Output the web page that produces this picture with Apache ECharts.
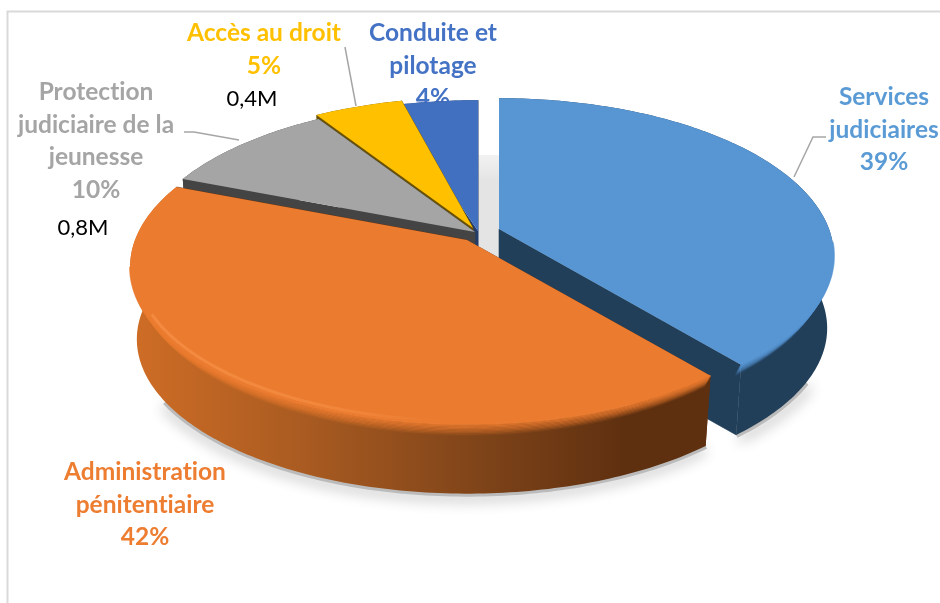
<!DOCTYPE html>
<html><head><meta charset="utf-8">
<style>html,body{margin:0;padding:0;background:#fff}#c{width:940px;height:603px}</style>
<script src="https://cdn.jsdelivr.net/npm/echarts@6/dist/echarts.min.js"></script>
</head><body><div id="c"></div>
<script>
const categories = ["Services\njudiciaires", "Administration\npénitentiaire", "Protection\njudiciaire de la\njeunesse", "Accès au droit", "Conduite et\npilotage"];
const percentValues = [39, 42, 10, 5, 4];
const amountLabels = ["", "", "0,8M", "0,4M", ""];

const topColors = ["#5796d3", "#ea7b2f", "#a5a5a5", "#ffc000", "#4170c0"];
const textColors = ["#5b9bd5", "#ed7d31", "#a5a5a5", "#ffc000", "#4472c4"];
const wallColors = ["#223f5a", null, "#444444", "#6b5200", "#243c68"];
const centers = [[499,229],[467,240],[475,232],[473,228],[478,231]];
const radiiX = [330, 332, 334, 334, 334];
const startOverlap = [0, 0, 0, 0, 0.05];
const layerZ = [40, 50, 30, 20, 10];
const labelPos = [[884,97],[145,472],[96,92],[264,33],[433,33]];
const amountPos = [null,null,[83,228],[252,99],null];
const leaders = [[[794,177],[813,137],[826,137]], null, [[184,132],[194,132],[239,140]], [[345,47],[356,106]], null];
const softFrom = [240, 265, 999, 999, 999];
const shadowFrom = [310, 330, 999, 999, 999];

const P = 0.17, B = 153, S = 0.98, DY = 73;
const total = percentValues.reduce((s, v) => s + v, 0);

// Keep the glyphs separate (no "ti" ligature) on the canvas text
const nativeFillText = CanvasRenderingContext2D.prototype.fillText;
CanvasRenderingContext2D.prototype.fillText = function (t, x, y, m) {
  this.textRendering = "optimizeSpeed";
  return m === undefined ? nativeFillText.call(this, t, x, y) : nativeFillText.call(this, t, x, y, m);
};

function proj(t, r, c, A) {
  const u = r * Math.sin(t), v = r * Math.cos(t), w = 1 + P * v;
  return [c[0] + A * u / w, c[1] - B * v / w];
}
function low(p, c) { return [c[0] + (p[0] - c[0]) * S, c[1] + DY + (p[1] - c[1]) * S]; }
function arc(t0, t1, r, c, A) {
  const n = Math.max(4, Math.ceil(Math.abs(t1 - t0) * 60)), out = [];
  for (let i = 0; i <= n; i++) out.push(proj(t0 + (t1 - t0) * i / n, r, c, A));
  return out;
}

const Grad = echarts.graphic.LinearGradient;

function renderItem(params, api) {
  const i = params.dataIndex, val = api.value(0);
  let before = 0;
  for (let k = 0; k < i; k++) before += percentValues[k];
  const t0 = before / total * Math.PI * 2, t1 = (before + val) / total * Math.PI * 2;
  const c = centers[i], z = layerZ[i], A = radiiX[i];
  const top = arc(t0 - startOverlap[i], t1, 1, c, A);
  const bottom = top.map(p => low(p, c));
  const tip = [c[0], c[1]], tipLow = low(tip, c);
  const wallFill = i === 1
    ? new Grad(0, 0, 1, 0, [
        {offset: 0, color: "#cf6d26"}, {offset: 0.3, color: "#a95b21"},
        {offset: 0.6, color: "#7f4419"}, {offset: 0.85, color: "#5f3010"}, {offset: 1, color: "#5f3010"}])
    : wallColors[i];
  const solid = i === 1 ? "#5f3010" : wallColors[i];
  const kids = [];
  const front = top.filter(p => p[1] > softFrom[i]);
  if (i < 2) {
    // soft ground shadow under the visible rim only
    const castEdge = front.filter(p => p[1] > shadowFrom[i]).map(p => low(p, c));
    kids.push({type: "polyline", z2: 1, shape: {points: castEdge},
      style: {fill: null, stroke: "#bbb", lineWidth: 6, shadowBlur: 14, shadowColor: "rgba(0,0,0,0.3)", shadowOffsetY: 4, shadowOffsetX: i === 0 ? 3 : -1}});
  }
  kids.push({type: "polygon", z2: z, shape: {points: top.concat(bottom.slice().reverse())},
    style: {fill: wallFill}});
  kids.push({type: "polygon", z2: z + 1, shape: {points: [tip, top[0], bottom[0], tipLow]}, style: {fill: solid}});
  kids.push({type: "polygon", z2: z + 1, shape: {points: [tip, top[top.length - 1], bottom[bottom.length - 1], tipLow]},
    style: {fill: solid, stroke: solid, lineWidth: 0.6}});
  kids.push({type: "polygon", z2: z + 3, shape: {points: [tip].concat(top)}, style: {fill: topColors[i]}});
  // soft bevel where the top face meets the wall
  if (i < 2) {
    for (let s = 0; s < 9; s++) {
      kids.push({type: "polyline", z2: z + 2, shape: {points: front.map(p => [p[0] - (p[0] - c[0]) * 0.003 * s, p[1] + s * 1.3])},
        style: {fill: null, stroke: topColors[i], lineWidth: 2, opacity: 0.8 - s * 0.09}});
    }
  }
  if (i === 1) {
    const hi = arc(3.2, t1 - 0.85, 0.985, c, A);
    kids.push({type: "polyline", z2: z + 4, shape: {points: hi},
      style: {fill: null, lineWidth: 3, opacity: 0.8,
        stroke: new Grad(0, 0, 1, 0, [
          {offset: 0, color: "rgba(248,145,70,0.9)"}, {offset: 0.6, color: "rgba(248,145,70,0.7)"}, {offset: 1, color: "rgba(248,145,70,0)"}])}});
  }
  // text
  kids.push({type: "text", z2: 2, style: {
    text: categories[i] + "\n" + val + "%", x: labelPos[i][0], y: labelPos[i][1] - 16,
    fill: textColors[i], font: "bold 24.5px Lato", align: "center", verticalAlign: "top", lineHeight: 32.5}});
  if (amountLabels[i]) {
    kids.push({type: "text", z2: 2, style: {text: amountLabels[i], x: amountPos[i][0], y: amountPos[i][1],
      fill: "#000", font: "22px Lato", align: "center", verticalAlign: "middle"}});
  }
  if (leaders[i]) {
    kids.push({type: "polyline", z2: 3, shape: {points: leaders[i]}, style: {fill: null, stroke: "#a6a6a6", lineWidth: 1.5}});
  }
  return {type: "group", children: kids};
}

const chart = echarts.init(document.getElementById("c"), null, {renderer: "canvas"});
chart.setOption({
  animation: false,
  backgroundColor: "#fff",
  graphic: [
    {type: "polyline", silent: true, z: 0, shape: {points: [[7.5,603],[7.5,11.5],[940,11.5]]}, style: {fill: null, stroke: "#d9d9d9", lineWidth: 2}},
    {type: "rect", silent: true, z: 0, shape: {x: 478, y: 155, width: 22, height: 102},
      style: {fill: new Grad(0, 0, 0, 1, [{offset: 0, color: "#f2f2f2"}, {offset: 0.25, color: "#e4e4e4"}, {offset: 1, color: "#e4e4e4"}])}}
  ],
  series: [{
    type: "custom",
    coordinateSystem: "none",
    silent: true,
    z: 5,
    data: percentValues.map(v => [v]),
    renderItem
  }]
});
</script></body></html>
